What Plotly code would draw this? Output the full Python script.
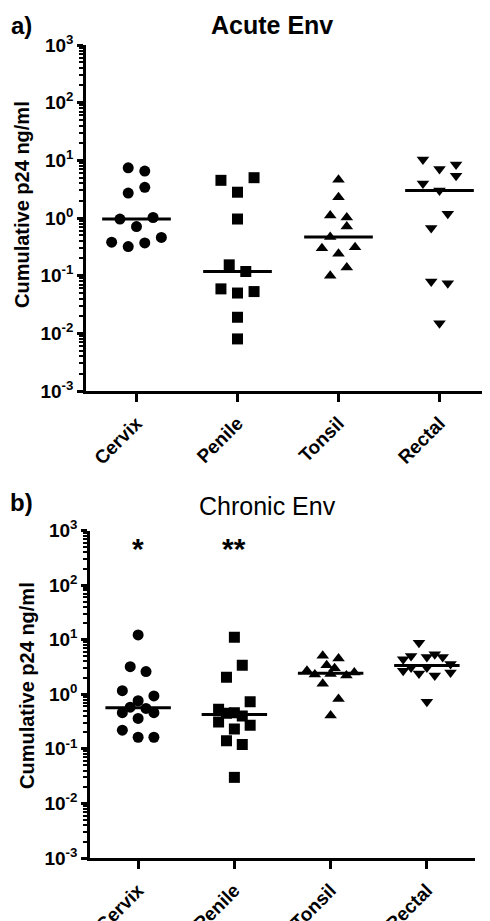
import numpy as np
import plotly.graph_objects as go

categories = ["Cervix", "Penile", "Tonsil", "Rectal"]
symbols = ["circle", "square", "triangle-up", "triangle-down"]

# Panel a) Acute Env
acute_cervix = [7.4, 6.5, 2.7, 3.4, 0.96, 1.02, 0.71, 0.38, 0.32, 0.37, 0.46]
acute_cervix_slot = [-1, 1, -1, 1, -2, 2, 0, -3, -1, 1, 3]
acute_penile = [4.5, 5.0, 2.8, 0.96, 0.154, 0.118, 0.059, 0.05, 0.053, 0.019, 0.008]
acute_penile_slot = [-2, 2, 0, 0, -1, 1, -2, 0, 2, 0, 0]
acute_tonsil = [4.6, 2.3, 1.1, 1.02, 0.71, 0.47, 0.30, 0.31, 0.24, 0.138, 0.10]
acute_tonsil_slot = [0, 0, -1, 1, 1, -1, -2, 2, 0, 1, -1]
acute_rectal = [10.3, 7.1, 8.5, 5.4, 3.95, 3.0, 1.19, 0.67, 0.079, 0.074, 0.015]
acute_rectal_slot = [-2, 0, 2, 2, -2, 0, 1, -1, -1, 1, 0]

# Panel b) Chronic Env
chronic_cervix = [12.2, 3.2, 2.6, 1.16, 0.93, 0.76, 0.58, 0.55, 0.46, 0.46, 0.36, 0.22, 0.163, 0.163]
chronic_cervix_slot = [0, -1, 1, -2, 2, 0, -1, 1, -2, 2, 0, -2, 0, 2]
chronic_penile = [11.1, 3.4, 2.05, 0.73, 0.53, 0.45, 0.46, 0.40, 0.31, 0.27, 0.23, 0.14, 0.12, 0.030]
chronic_penile_slot = [0, 1, -1, 2, -2, -1, 0, 1, -2, 2, 0, -1, 1, 0]
chronic_tonsil = [5.1, 4.5, 3.4, 3.0, 2.7, 2.3, 2.35, 2.2, 2.5, 1.55, 0.82, 0.41]
chronic_tonsil_slot = [-1, 1, -0.5, 0.5, -3, -2, 0, 2, 3, -1, 1, 0]
chronic_rectal = [8.8, 4.4, 5.0, 4.8, 5.4, 4.8, 3.6, 2.7, 2.4, 2.2, 2.5, 0.73, 3.1, 3.1]
chronic_rectal_slot = [-1, -3, -2, 0, 1, 2, 3, -3, -1, 1, 3, 0, -2, 0]

acute = [(acute_cervix, acute_cervix_slot), (acute_penile, acute_penile_slot),
         (acute_tonsil, acute_tonsil_slot), (acute_rectal, acute_rectal_slot)]
chronic = [(chronic_cervix, chronic_cervix_slot), (chronic_penile, chronic_penile_slot),
           (chronic_tonsil, chronic_tonsil_slot), (chronic_rectal, chronic_rectal_slot)]

SLOT = 0.082
HALF = 0.34
FONT = "Liberation Sans, Arial, sans-serif"

# page has an 8px body margin; figure is sized to fill the rest of the window
OFF = 8
W, H = 490 - OFF, 921 - OFF


def fx(px):
    return (px - OFF) / W


def fy(py):
    return 1 - (py - OFF) / H


fig = go.Figure()
for panel, (xa, ya) in zip([acute, chronic], [("x", "y"), ("x2", "y2")]):
    for i, (vals, slots) in enumerate(panel):
        xs = [i + s * SLOT for s in slots]
        fig.add_trace(go.Scatter(x=xs, y=vals, mode="markers", xaxis=xa, yaxis=ya,
                                 marker=dict(symbol=symbols[i], size=11, color="black",
                                             line=dict(width=0)),
                                 showlegend=False, hoverinfo="y"))
        med = float(np.median(vals))
        fig.add_trace(go.Scatter(x=[i - HALF, i + HALF], y=[med, med], mode="lines",
                                 xaxis=xa, yaxis=ya, line=dict(color="black", width=3),
                                 showlegend=False, hoverinfo="skip"))

tickvals = [10.0 ** k for k in range(-3, 4)]
ticktext = ["10<sup>%d</sup>" % k for k in range(-3, 4)]

yaxis_common = dict(type="log", range=[-3, 3], tickvals=tickvals, ticktext=ticktext,
                    showline=True, linecolor="black", linewidth=2.5, ticks="outside",
                    ticklen=6, tickwidth=2.5, tickcolor="black", showgrid=False,
                    zeroline=False, automargin=False,
                    tickfont=dict(family=FONT, size=19, color="black", weight="bold"),
                    minor=dict(ticks="outside", ticklen=4, tickwidth=2, tickcolor="black",
                               dtick="D1", showgrid=False))
xaxis_common = dict(range=[-0.5, 3.5], tickvals=[0, 1, 2, 3], ticktext=categories,
                    tickangle=-45, showline=True, linecolor="black", linewidth=2.5,
                    ticks="outside", ticklen=8, tickwidth=2.5, tickcolor="black",
                    ticklabelstandoff=3,
                    showgrid=False, zeroline=False, automargin=False,
                    tickfont=dict(family=FONT, size=19, color="black", weight="bold"))

fig.update_layout(
    width=W, height=H, margin=dict(l=0, r=0, t=0, b=0),
    paper_bgcolor="white", plot_bgcolor="white",
    xaxis=dict(domain=[fx(86), fx(490)], anchor="y", **xaxis_common),
    yaxis=dict(domain=[fy(391), fy(45)], anchor="x", **yaxis_common),
    xaxis2=dict(domain=[fx(90), fx(475)], anchor="y2", **xaxis_common),
    yaxis2=dict(domain=[fy(858), fy(530.5)], anchor="x2", **yaxis_common),
)


def note(text, x, y, size, xref="paper", angle=0):
    return dict(text=text, x=x, y=y, xref=xref, yref="paper", textangle=angle,
                xanchor="center", yanchor="middle", showarrow=False,
                font=dict(family=FONT, size=size, color="black"))


ann = [
    note("<b>Acute Env</b>", fx(272), fy(25), 25),
    note("Chronic Env", fx(267), fy(506), 25),
    note("<b>a)</b>", fx(21), fy(25), 24),
    note("<b>b)</b>", fx(21), fy(502), 24),
    note("<b>Cumulative p24 ng/ml</b>", fx(22), fy(205), 20, angle=-90),
    note("<b>Cumulative p24 ng/ml</b>", fx(27), fy(686), 20, angle=-90),
    note("<b>*</b>", 0, fy(548), 30, xref="x2"),
    note("<b>**</b>", 1, fy(548), 30, xref="x2"),
]
fig.update_layout(annotations=ann)

fig.write_html("out.html")
